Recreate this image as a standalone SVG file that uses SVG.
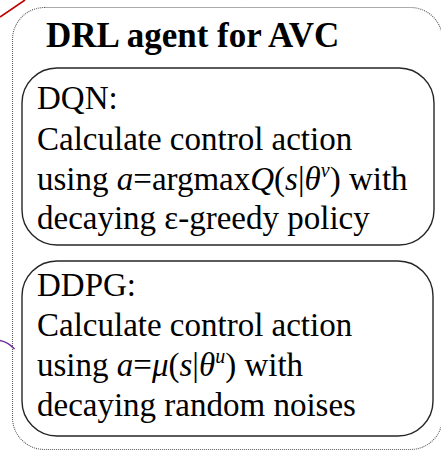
<svg xmlns="http://www.w3.org/2000/svg" width="441" height="452" viewBox="0 0 441 452">
  <style>
    text { font-family: "Liberation Serif", "Times New Roman", Times, Tinos, "Noto Serif", "DejaVu Serif", serif; fill: #000; }
    .frame { fill: #ffffff; stroke: #5a5a5a; stroke-width: 1.1; stroke-dasharray: 1 1; }
    .card { fill: #ffffff; stroke: #262626; stroke-width: 1.4; }
    .title { font-weight: bold; font-size: 35px; }
    .body { font-size: 33px; }
    .it { font-style: italic; }
    .sup { font-style: italic; font-size: 20px; }
    .link-red { fill: none; stroke: #c00000; stroke-width: 1.6; }
    .link-purple { fill: none; stroke: #7030a0; stroke-width: 1.6; }
  </style>

  <!-- outer agent container -->
  <g id="agent">
    <rect class="frame" x="12.5" y="7.5" width="430" height="442" rx="32" ry="32"/>
    <text class="title" x="46" y="47">DRL agent for AVC</text>
  </g>

  <!-- DQN block -->
  <g id="dqn">
    <rect class="card" x="22" y="68" width="412" height="177" rx="35" ry="35"/>
    <text class="body" x="37" y="109">DQN:</text>
    <text class="body" x="37" y="150">Calculate control action</text>
    <text class="body" x="37" y="190">using <tspan class="it">a</tspan>=argmax<tspan class="it">Q</tspan>(<tspan class="it">s</tspan>|<tspan class="it">θ</tspan><tspan class="sup" dy="-13">v</tspan><tspan dy="13">) with</tspan></text>
    <text class="body" x="37" y="229">decaying ε-greedy policy</text>
  </g>

  <!-- DDPG block -->
  <g id="ddpg">
    <rect class="card" x="22" y="261" width="411" height="175" rx="35" ry="35"/>
    <text class="body" x="37" y="296">DDPG:</text>
    <text class="body" x="37" y="336">Calculate control action</text>
    <text class="body" x="37" y="376">using <tspan class="it">a</tspan>=<tspan class="it">μ</tspan>(<tspan class="it">s</tspan>|<tspan class="it">θ</tspan><tspan class="sup" dy="-13">u</tspan><tspan dy="13">) with</tspan></text>
    <text class="body" x="37" y="416">decaying random noises</text>
  </g>

  <!-- connectors entering the container -->
  <g id="connectors">
    <path class="link-red" d="M0,17 L25,0"/>
    <path class="link-purple" d="M0,340.5 Q8,342 14.5,349"/>
  </g>
</svg>
